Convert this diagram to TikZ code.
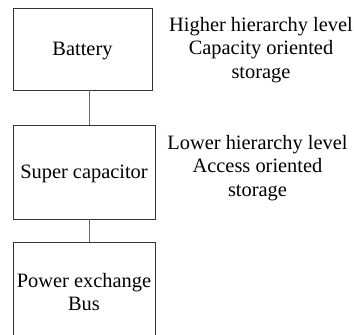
\documentclass[tikz,border=0pt]{standalone}
\usepackage{fontspec}
\setmainfont{Liberation Serif}
\begin{document}
\begin{tikzpicture}[x=1pt,y=-1pt,
  blockbox/.style={draw=black!80,line width=0.9pt,inner sep=0pt,align=center},
  linkline/.style={draw=black!60,line width=0.9pt},
  sidetext/.style={align=center,inner sep=0pt}]
  \useasboundingbox (0,0) rectangle (354,335);
  \clip (0,0) rectangle (354,335);
  \fontsize{20.4}{23.5}\selectfont
  % storage blocks
  \node[blockbox,minimum width=139pt,minimum height=82pt] (battery) at (82.5,49) {};
  \node (batterylabel) at (82.5,51) {Battery};
  \node[blockbox,minimum width=142pt,minimum height=94pt] (supercap) at (84,172) {};
  \node (supercaplabel) at (84,174) {Super capacitor};
  \node[blockbox,anchor=north,minimum width=142pt,minimum height=120pt] (bus) at (84,242) {};
  \node[sidetext] (buslabel) at (84,292) {Power exchange\\Bus};
  % vertical links
  \coordinate (lx) at (89,0);
  \draw[linkline] (battery.south -| lx) -- (supercap.north -| lx);
  \draw[linkline] (supercap.south -| lx) -- (bus.north -| lx);
  % descriptions
  \node[sidetext] (hightext) at (261,50) {Higher hierarchy level\\Capacity oriented\\storage};
  \node[sidetext] (lowtext) at (257.5,168) {Lower hierarchy level\\Access oriented\\storage};
\end{tikzpicture}
\end{document}
